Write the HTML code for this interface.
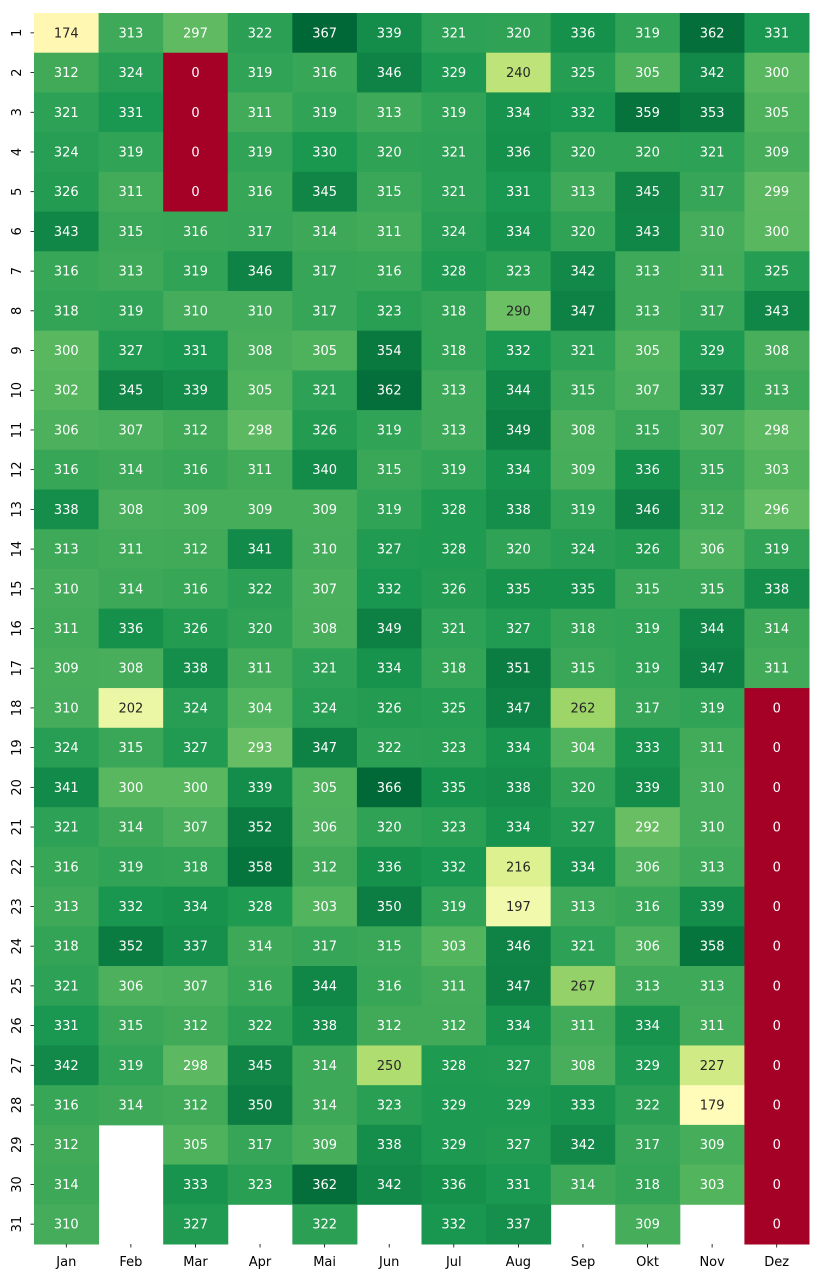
<!DOCTYPE html>
<html><head><meta charset="utf-8"><style>
html,body{margin:0;padding:0;background:#fff;}
svg{display:block;font-family:"DejaVu Sans","Liberation Sans",sans-serif;}
</style></head><body>
<svg id="chart" width="822" height="1279" viewBox="0 0 822 1279" xmlns="http://www.w3.org/2000/svg"></svg>
<script>
const months = ["Jan","Feb","Mar","Apr","Mai","Jun","Jul","Aug","Sep","Okt","Nov","Dez"];
const days = ["1","2","3","4","5","6","7","8","9","10","11","12","13","14","15","16","17","18","19","20","21","22","23","24","25","26","27","28","29","30","31"];
const values = [
[174,313,297,322,367,339,321,320,336,319,362,331],
[312,324,0,319,316,346,329,240,325,305,342,300],
[321,331,0,311,319,313,319,334,332,359,353,305],
[324,319,0,319,330,320,321,336,320,320,321,309],
[326,311,0,316,345,315,321,331,313,345,317,299],
[343,315,316,317,314,311,324,334,320,343,310,300],
[316,313,319,346,317,316,328,323,342,313,311,325],
[318,319,310,310,317,323,318,290,347,313,317,343],
[300,327,331,308,305,354,318,332,321,305,329,308],
[302,345,339,305,321,362,313,344,315,307,337,313],
[306,307,312,298,326,319,313,349,308,315,307,298],
[316,314,316,311,340,315,319,334,309,336,315,303],
[338,308,309,309,309,319,328,338,319,346,312,296],
[313,311,312,341,310,327,328,320,324,326,306,319],
[310,314,316,322,307,332,326,335,335,315,315,338],
[311,336,326,320,308,349,321,327,318,319,344,314],
[309,308,338,311,321,334,318,351,315,319,347,311],
[310,202,324,304,324,326,325,347,262,317,319,0],
[324,315,327,293,347,322,323,334,304,333,311,0],
[341,300,300,339,305,366,335,338,320,339,310,0],
[321,314,307,352,306,320,323,334,327,292,310,0],
[316,319,318,358,312,336,332,216,334,306,313,0],
[313,332,334,328,303,350,319,197,313,316,339,0],
[318,352,337,314,317,315,303,346,321,306,358,0],
[321,306,307,316,344,316,311,347,267,313,313,0],
[331,315,312,322,338,312,312,334,311,334,311,0],
[342,319,298,345,314,250,328,327,308,329,227,0],
[316,314,312,350,314,323,329,329,333,322,179,0],
[312,null,305,317,309,338,329,327,342,317,309,0],
[314,null,333,323,362,342,336,331,314,318,303,0],
[310,null,327,null,322,null,332,337,null,309,null,0]
];
const vmin = 0, vmax = 367;

const NS = "http://www.w3.org/2000/svg";
const svg = document.getElementById("chart");
const X0 = 34, X1 = 809, Y0 = 13, Y1 = 1244;
const cw = (X1 - X0) / months.length, ch = (Y1 - Y0) / days.length;
const xPos = i => X0 + i * cw;
const yPos = j => Y0 + j * ch;
const stops = ["#a50026","#d73027","#f46d43","#fdae61","#fee08b","#ffffbf","#d9ef8b","#a6d96a","#66bd63","#1a9850","#006837"].map(h=>[parseInt(h.slice(1,3),16),parseInt(h.slice(3,5),16),parseInt(h.slice(5,7),16)]);
function cmap(v){
  let t = Math.max(0, Math.min(1, (v - vmin) / (vmax - vmin))) * (stops.length - 1);
  let i = Math.min(stops.length - 2, Math.floor(t)), f = t - i;
  return stops[i].map((c,k)=>Math.round(c + (stops[i+1][k] - c) * f));
}
function lum(rgb){
  const l = rgb.map(c=>{c/=255;return c<=0.03928?c/12.92:Math.pow((c+0.055)/1.055,2.4);});
  return 0.2126*l[0]+0.7152*l[1]+0.0722*l[2];
}
function el(tag, attrs){ const e = document.createElementNS(NS, tag); for (const k in attrs) e.setAttribute(k, attrs[k]); return e; }

values.forEach((row, j) => {
  row.forEach((v, i) => {
    if (v === null) return;
    const c = cmap(v);
    const r = el("rect", {x: xPos(i), y: yPos(j), width: cw + 0.5, height: ch + 0.5, fill: `rgb(${c.join(",")})`});
    
    
    svg.appendChild(r);
    const t = el("text", {x: xPos(i) + cw/2, y: yPos(j) + ch/2 + 4.5, "text-anchor": "middle", "font-size": "13", fill: lum(c) > 0.408 ? "#262626" : "#ffffff"});
    t.textContent = v;
    
    
    svg.appendChild(t);
  });
});
months.forEach((m, i) => {
  const x = xPos(i) + cw/2;
  const tk = el("line", {x1: x, x2: x, y1: Y1, y2: Y1 + 3.5, stroke: "#000", "stroke-width": "0.8"});
  
  
  svg.appendChild(tk);
  const t = el("text", {x: x, y: Y1 + 22, "text-anchor": "middle", "font-size": "13", fill: "#000"});
  t.textContent = m;
  
  
  svg.appendChild(t);
});
days.forEach((d, j) => {
  const y = yPos(j) + ch/2;
  const tk = el("line", {x1: X0 - 3.5, x2: X0, y1: y, y2: y, stroke: "#000", "stroke-width": "0.8"});
  
  
  svg.appendChild(tk);
  const t = el("text", {x: 21, y: y, "text-anchor": "middle", "font-size": "13", fill: "#000", transform: `rotate(-90 21 ${y})`});
  t.textContent = d;
  
  
  svg.appendChild(t);
});
</script>
</body></html>
